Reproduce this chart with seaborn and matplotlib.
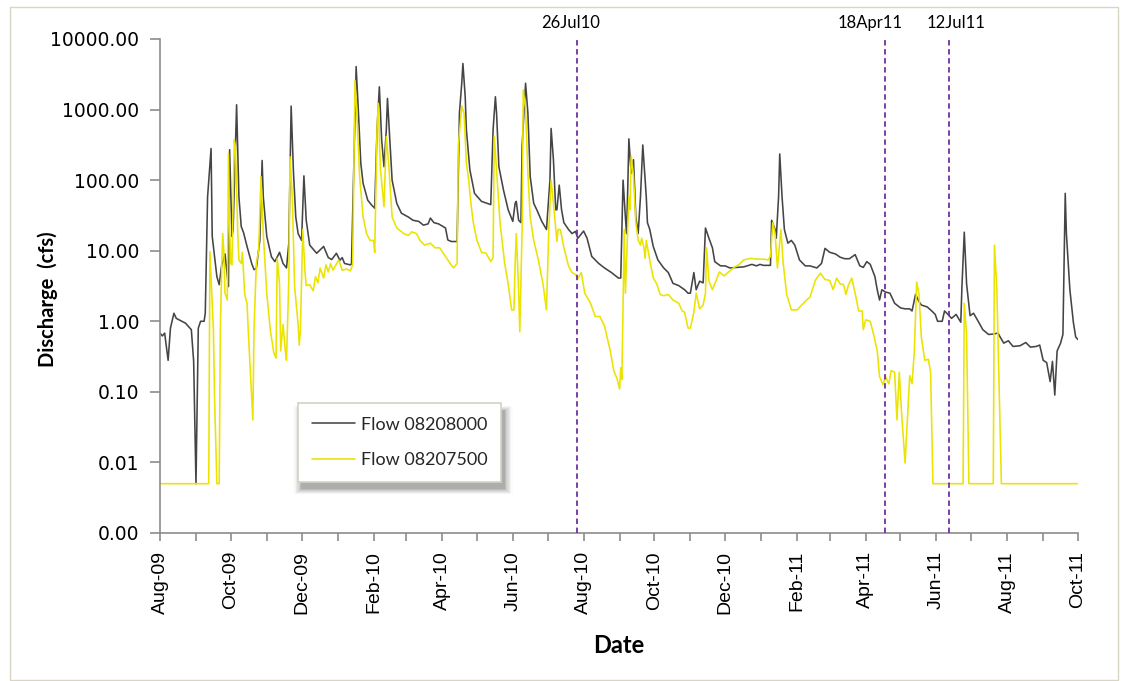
import matplotlib
matplotlib.use("Agg")
import matplotlib.pyplot as plt
from matplotlib.lines import Line2D
from matplotlib.patches import Rectangle
from matplotlib.ticker import FixedLocator, FixedFormatter, NullLocator
import numpy as np
import pandas as pd
import seaborn as sns

# Daily discharge records, sampled at turning points (days counted from record start)
record_start = pd.Timestamp("2009-08-01")

days_08208000 = [
    0, 2, 4, 7, 9, 12, 14, 22, 27, 29, 31, 33, 35, 38, 39, 41, 44, 45, 49, 51,
    53, 56, 59, 60, 62, 63, 66, 68, 70, 72, 75, 79, 81, 83, 86, 88, 89, 92, 96, 99,
    103, 106, 109, 111, 113, 115, 117, 119, 122, 124, 126, 129, 135, 141, 145, 148, 152, 155, 157, 159,
    164, 165, 167, 169, 171, 173, 175, 179, 182, 185, 187, 189, 191, 193, 195, 196, 198, 200, 204, 208,
    214, 218, 223, 227, 231, 233, 236, 240, 246, 248, 251, 256, 258, 260, 261, 263, 264, 266, 267, 271,
    277, 285, 287, 289, 290, 292, 296, 300, 304, 306, 307, 309, 311, 312, 315, 317, 319, 322, 325, 329,
    333, 336, 337, 339, 341, 342, 344, 346, 348, 352, 355, 358, 360, 365, 368, 372, 378, 383, 389, 395,
    397, 399, 401, 402, 403, 404, 406, 408, 410, 412, 414, 416, 419, 420, 422, 425, 429, 434, 438, 442,
    447, 452, 455, 457, 460, 462, 465, 468, 470, 473, 476, 478, 483, 487, 491, 497, 503, 510, 514, 517,
    520, 526, 527, 530, 531, 533, 534, 536, 538, 541, 544, 547, 551, 556, 560, 566, 570, 573, 577, 582,
    586, 590, 594, 599, 603, 606, 609, 612, 616, 618, 620, 622, 625, 629, 633, 638, 642, 646, 648, 651,
    654, 656, 661, 665, 668, 670, 674, 676, 679, 682, 686, 690, 691, 693, 695, 698, 701, 705, 709, 714,
    718, 722, 727, 731, 735, 741, 746, 750, 755, 758, 761, 764, 767, 769, 771, 773, 776, 778, 780, 781,
    784, 787, 789, 791,
]
flow_08208000 = [
    0.68, 0.62, 0.68, 0.28, 0.8, 1.3, 1.1, 0.94, 0.76, 0.27, 0.005, 0.8, 1.0, 1.0, 1.3, 58, 280, 16, 4.3, 3.3,
    6, 9, 3.1, 270, 16, 20, 1170, 58, 22, 18, 11.5, 6.6, 5.4, 5.6, 14, 190, 58, 16, 8.2, 7.0,
    9.5, 6.6, 5.7, 12.8, 1120, 130, 30, 17.5, 14, 115, 27, 12, 9.2, 11.5, 8, 7.5, 9.2, 7.3, 8, 6.6,
    6.3, 6.5, 175, 4070, 890, 175, 90, 52, 45, 40, 515, 2100, 370, 155, 515, 1440, 370, 100, 47, 34,
    30, 27, 26, 23, 24, 29, 25, 24, 21, 14.2, 13.5, 13.5, 890, 2360, 4500, 1500, 515, 215, 140, 65,
    50, 45, 515, 1520, 890, 155, 72, 38, 26, 47, 50, 27, 25, 300, 2360, 890, 112, 47, 37, 26,
    20, 100, 540, 195, 38, 38, 85, 38, 25, 20, 17.5, 18.8, 15, 19, 15, 8.3, 6.6, 5.7, 4.9, 4.1,
    4.1, 100, 30, 17.5, 72, 385, 125, 195, 30, 17.5, 58, 315, 58, 25, 20, 11.5, 7.4, 5.7, 4.9, 3.45,
    3.2, 2.8, 2.5, 2.5, 4.9, 2.8, 3.7, 3.5, 21, 15, 11, 7, 6.1, 6.1, 5.7, 5.8, 5.9, 6.4, 6.1, 6.4,
    6.2, 6.2, 27, 20, 15, 58, 235, 58, 20, 12.8, 14, 12, 7.4, 6.1, 6.1, 5.7, 6.6, 10.8, 9.5, 9,
    8.1, 7.7, 7.7, 8.8, 6.1, 5.8, 7, 6.4, 4.3, 2.8, 2.0, 2.8, 2.6, 2.5, 1.8, 1.55, 1.5, 1.5, 1.4, 2.4,
    1.9, 1.7, 1.6, 1.4, 1.25, 1.0, 1.0, 1.4, 1.25, 1.1, 1.25, 0.97, 3.1, 18.3, 3.4, 1.2, 1.3, 1.0, 0.76, 0.65,
    0.66, 0.68, 0.49, 0.53, 0.44, 0.45, 0.5, 0.43, 0.44, 0.46, 0.28, 0.26, 0.14, 0.27, 0.09, 0.38, 0.49, 0.65, 65, 17.5,
    2.8, 0.97, 0.6, 0.55,
]

days_08207500 = [
    0, 42, 43, 46, 47, 49, 51, 52, 53, 54, 55, 56, 58, 59, 60, 61, 62, 64, 65, 67,
    68, 70, 71, 73, 75, 76, 79, 80, 81, 83, 85, 87, 89, 92, 95, 98, 100, 101, 103, 104,
    106, 108, 109, 111, 112, 114, 116, 119, 120, 121, 123, 125, 126, 129, 132, 134, 136, 138, 141, 143,
    145, 147, 149, 154, 157, 161, 164, 166, 168, 170, 172, 175, 178, 181, 184, 185, 187, 188, 190, 193,
    195, 197, 200, 204, 210, 214, 217, 221, 224, 228, 233, 237, 241, 246, 250, 253, 256, 257, 260, 262,
    264, 266, 268, 270, 273, 277, 281, 285, 287, 288, 290, 293, 297, 300, 303, 305, 306, 307, 309, 310,
    312, 313, 315, 317, 319, 322, 326, 330, 333, 335, 337, 339, 342, 343, 345, 348, 352, 355, 358, 360,
    363, 366, 371, 375, 379, 383, 388, 391, 394, 396, 397, 398, 400, 401, 403, 404, 405, 406, 408, 410,
    412, 414, 415, 417, 418, 419, 422, 425, 428, 431, 434, 438, 442, 447, 450, 452, 455, 457, 460, 462,
    465, 468, 470, 471, 473, 476, 478, 482, 486, 490, 494, 499, 503, 509, 514, 520, 524, 526, 528, 530,
    532, 535, 537, 540, 544, 549, 553, 557, 560, 565, 569, 573, 577, 580, 583, 586, 589, 591, 593, 596,
    599, 602, 605, 606, 608, 612, 615, 618, 620, 623, 625, 628, 630, 633, 635, 637, 639, 642, 645, 646,
    648, 650, 652, 654, 656, 659, 662, 664, 666, 692, 693, 695, 697, 718, 719, 721, 725, 791,
]
flow_08207500 = [
    0.005, 0.005, 9.7, 0.76, 0.085, 0.005, 0.005, 0.76, 4.3, 17.5, 10, 2.5, 2.0, 240, 20, 6.6, 6.3, 370, 300, 17.5,
    7.4, 6.6, 9.5, 2.4, 1.8, 0.76, 0.085, 0.04, 0.76, 6.6, 10, 112, 17.5, 2.5, 0.76, 0.36, 0.3, 7.8, 3.4, 0.38,
    0.9, 0.38, 0.28, 3.9, 215, 58, 3.1, 0.9, 0.46, 0.76, 20, 4.9, 3.2, 3.3, 2.7, 4.3, 3.5, 5.7, 4.1, 6.3,
    5.0, 6.6, 5.3, 7.4, 5.3, 5.5, 5.2, 6.3, 2600, 650, 112, 30, 17.5, 14, 14, 9.4, 515, 1230, 140, 42,
    415, 175, 30, 21, 17.5, 16.5, 18.5, 17.5, 14, 12, 12.8, 11, 11, 8.3, 6.6, 5.7, 6.6, 300, 1120, 890,
    175, 100, 45, 25, 14.2, 9.5, 9.2, 7, 8, 415, 140, 25, 6.6, 3.4, 1.45, 1.45, 6.6, 17.5, 2.8, 0.71,
    20, 1900, 1000, 125, 30, 14, 7.4, 3.4, 1.45, 20, 100, 47, 13.5, 20, 20, 11, 6.1, 4.9, 4.6, 4.0,
    4.9, 2.5, 1.8, 1.17, 1.17, 0.86, 0.38, 0.2, 0.15, 0.11, 0.22, 0.15, 20, 2.5, 20, 58, 38, 220, 112, 25,
    14.2, 12, 15, 11, 7.8, 14, 7.4, 4.1, 3.4, 2.4, 2.3, 2.4, 2.0, 1.8, 1.4, 1.35, 0.8, 0.8, 1.35, 2.5,
    1.5, 1.7, 2.5, 11, 3.7, 2.8, 3.4, 5, 4.4, 5, 5.7, 6.4, 7.4, 7.8, 7.6, 7.6, 7.4, 8.3, 25, 17.5,
    5.7, 20, 6.6, 2.4, 1.45, 1.45, 1.7, 2.0, 2.2, 3.9, 4.8, 3.9, 3.8, 2.8, 4.1, 3.4, 3.3, 2.4, 3.2, 4.1,
    2.5, 1.4, 1.4, 0.76, 1.05, 1.0, 0.64, 0.38, 0.165, 0.126, 0.165, 0.13, 0.2, 0.19, 0.04, 0.19, 0.05, 0.0098, 0.085, 0.17,
    0.13, 0.38, 3.6, 2.4, 0.6, 0.28, 0.29, 0.19, 0.005, 0.005, 1.8, 0.64, 0.005, 0.005, 12, 3.1, 0.005, 0.005,
]

series_names = ["Flow 08208000", "Flow 08207500"]
series_colors = ["#454545", "#ebe300"]

event_dates = ["2010-07-26", "2011-04-18", "2011-06-12"]
event_labels = ["26Jul10", "18Apr11", "12Jul11"]

y_ticks = [0.001, 0.01, 0.1, 1, 10, 100, 1000, 10000]
y_tick_labels = ["0.00", "0.01", "0.10", "1.00", "10.00", "100.00", "1000.00", "10000.00"]
x_start, x_end = "2009-08-01", "2011-10-01"

sns.set_theme(style="white")
plt.rcParams["font.family"] = ["Lato", "DejaVu Sans"]

frames = []
for name, days, flows in [
    (series_names[0], days_08208000, flow_08208000),
    (series_names[1], days_08207500, flow_08207500),
]:
    frames.append(pd.DataFrame({
        "Date": record_start + pd.to_timedelta(days, unit="D"),
        "Discharge": flows,
        "Gauge": name,
    }))
flows_df = pd.concat(frames, ignore_index=True)

fig = plt.figure(figsize=(11.24, 6.81), dpi=100)
fig.patch.set_facecolor("white")
fig.patches.append(Rectangle((10 / 1124, 1 - 680 / 681), 1108 / 1124, 673 / 681,
                             transform=fig.transFigure, fill=False,
                             edgecolor="#d9d5c4", linewidth=1.0, zorder=0))

ax = fig.add_axes([160 / 1124, 1 - 533 / 681, 918 / 1124, 494 / 681])
ax.set_facecolor("white")

sns.lineplot(data=flows_df, x="Date", y="Discharge", hue="Gauge",
             hue_order=series_names, palette=dict(zip(series_names, series_colors)),
             estimator=None, linewidth=1.15, legend=False, ax=ax)

ax.set_yscale("log")
ax.set_ylim(0.001, 10000)
ax.yaxis.set_major_locator(FixedLocator(y_ticks))
ax.yaxis.set_major_formatter(FixedFormatter(y_tick_labels))
ax.yaxis.set_minor_locator(NullLocator())

x0, x1 = pd.Timestamp(x_start), pd.Timestamp(x_end)
ax.set_xlim(x0, x1)
month_ticks = pd.date_range(x0, x1, freq="MS")
ax.xaxis.set_major_locator(FixedLocator(matplotlib.dates.date2num(month_ticks)))
ax.xaxis.set_major_formatter(FixedFormatter(
    [d.strftime("%b-%y") if i % 2 == 0 else "" for i, d in enumerate(month_ticks)]))

for side in ["top", "right"]:
    ax.spines[side].set_visible(False)
for side in ["left", "bottom"]:
    ax.spines[side].set_color("#8c8c8c")
    ax.spines[side].set_linewidth(1.2)

ax.tick_params(axis="y", which="major", direction="out", length=7, width=1.2,
               color="#8c8c8c", pad=8, left=True)
ax.tick_params(axis="x", which="major", direction="out", length=6, width=1.2,
               color="#8c8c8c", pad=7, bottom=True)
for lbl in ax.get_yticklabels():
    lbl.set_fontfamily("DejaVu Sans")
    lbl.set_fontsize(13.5)
    lbl.set_color("black")
for lbl in ax.get_xticklabels():
    lbl.set_fontfamily("Liberation Sans")
    lbl.set_fontsize(14)
    lbl.set_rotation(90)
    lbl.set_color("black")

ax.set_xlabel("Date", fontsize=17, fontweight="bold", labelpad=14, color="black")
ax.set_ylabel("Discharge  (cfs)", fontsize=14.5, fontweight="bold", color="black")
ax.yaxis.set_label_coords(-0.111, 0.474)
ax.grid(False)

# Event markers (label nudges in pixels)
label_nudge_px = [-6, -15, 7]
for d, lab, dx in zip(event_dates, event_labels, label_nudge_px):
    xd = pd.Timestamp(d)
    ax.axvline(xd, ymin=0, ymax=1.0, color="#7030a0", linestyle=(0, (3, 2)),
               linewidth=1.3, zorder=3)
    ax.annotate(lab, xy=(xd, 1.0), xycoords=("data", "axes fraction"),
                xytext=(dx * 0.72, 6), textcoords="offset points", ha="center", va="bottom",
                fontsize=12, color="black", annotation_clip=False)

handles = [Line2D([0], [0], color=c, linewidth=1.15) for c in series_colors]
leg = ax.legend(handles, series_names, loc="upper left",
                bbox_to_anchor=(298 / 1124, 1 - 403 / 681), bbox_transform=fig.transFigure,
                borderaxespad=0, frameon=True, fancybox=False, framealpha=1.0, fontsize=13,
                handlelength=2.4, handletextpad=0.35, labelspacing=1.1,
                borderpad=0.75)
leg.get_frame().set_edgecolor("#d6d2c2")
leg.get_frame().set_linewidth(1.2)
leg.get_frame().set_facecolor("white")
leg.set_zorder(6)

# Soft drop shadow under the legend box
fig.canvas.draw()
bb = leg.get_window_extent().transformed(fig.transFigure.inverted())
for i, a in enumerate(np.linspace(0.12, 0.02, 7)):
    grow = 0.0012 * i
    ax.add_patch(Rectangle(
        (bb.x0 + 0.003 - grow, bb.y0 - 0.011 - grow), bb.width + 2 * grow, bb.height + 2 * grow,
        transform=fig.transFigure, facecolor="#3a3a3a", edgecolor="none",
        alpha=a, zorder=5, clip_on=False))

fig.savefig("out.png", dpi=100, facecolor="white")
